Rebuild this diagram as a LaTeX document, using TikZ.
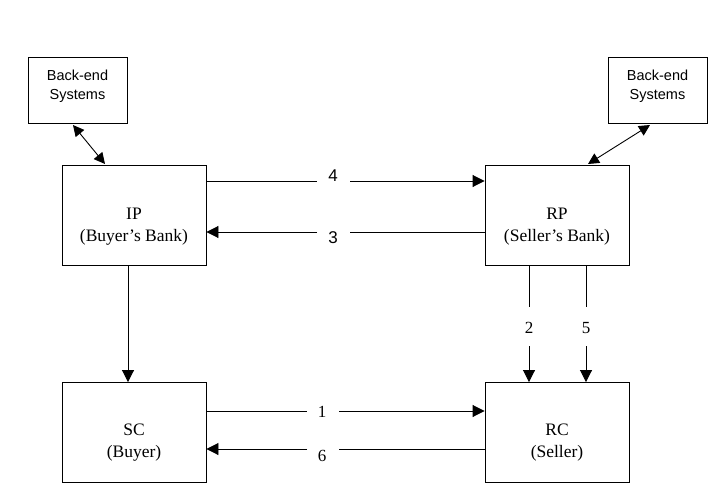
\documentclass[tikz,border=0pt]{standalone}
\usepackage{fontspec}
\setmainfont{Liberation Serif}
\setsansfont{Liberation Sans}
\usetikzlibrary{arrows.meta}
\begin{document}
\begin{tikzpicture}[x=1pt,y=-1pt,
  line width=0.9pt,
  mainbox/.style={draw,minimum width=144pt,minimum height=100pt,inner sep=0pt},
  bebox/.style={draw,minimum width=99pt,minimum height=66pt,inner sep=0pt},
  maintext/.style={align=center,font=\fontsize{17.5}{22}\selectfont,inner sep=0pt},
  betext/.style={align=center,font=\sffamily\fontsize{14.5}{19}\selectfont,inner sep=0pt},
  numser/.style={font=\fontsize{17}{20}\selectfont,inner sep=0pt},
  numsan/.style={font=\sffamily\fontsize{17}{20}\selectfont,inner sep=0pt},
  arr/.style={-{Triangle[length=12pt,width=12pt]}},
  darr/.style={{Triangle[length=11pt,width=11pt]}-{Triangle[length=11pt,width=11pt]}}
]
\useasboundingbox (0,0) rectangle (710,487);
% boxes
\node[bebox] (BEL) at (77.5,90) {};
\node[bebox] (BER) at (657.5,90) {};
\node[mainbox] (IP) at (134,215) {};
\node[mainbox] (RP) at (557,215) {};
\node[mainbox] (SC) at (134,432.5) {};
\node[mainbox] (RC) at (557,432.5) {};
% texts
\node[betext] (tBEL) at (77.5,86.5) {Back-end\\Systems};
\node[betext] (tBER) at (657.5,86.5) {Back-end\\Systems};
\node[maintext] (tIP) at (134,227) {IP\\(Buyer’s Bank)};
\node[maintext] (tRP) at (557,227) {RP\\(Seller’s Bank)};
\node[maintext] (tSC) at (134,443) {SC\\(Buyer)};
\node[maintext] (tRC) at (557,443) {RC\\(Seller)};
% number labels
\node[numsan] (n4) at (333,176) {4};
\node[numsan] (n3) at (333,238) {3};
\node[numser] (n1) at (322,412) {1};
\node[numser] (n6) at (322,456) {6};
\node[numser] (n2) at (529,328) {2};
\node[numser] (n5) at (586,328) {5};
% back-end links
\draw[darr] (73,125) -- (105,164);
\draw[darr] (650,125) -- (588,164);
% 4
\draw (IP.east |- 0,181) -- (317,181);
\draw[arr] (350,181) -- (RP.west |- 0,181);
% 3
\draw (RP.west |- 0,232) -- (350,232);
\draw[arr] (317,232) -- (IP.east |- 0,232);
% IP -> SC
\draw[arr] (128,265) -- (SC.north -| 128,0);
% 1
\draw (SC.east |- 0,411) -- (307,411);
\draw[arr] (339,411) -- (RC.west |- 0,411);
% 6
\draw (RC.west |- 0,449) -- (339,449);
\draw[arr] (307,449) -- (SC.east |- 0,449);
% 2
\draw (529,265) -- (529,307);
\draw[arr] (529,346) -- (RC.north -| 529,0);
% 5
\draw (586,265) -- (586,307);
\draw[arr] (586,346) -- (RC.north -| 586,0);
\end{tikzpicture}
\end{document}
